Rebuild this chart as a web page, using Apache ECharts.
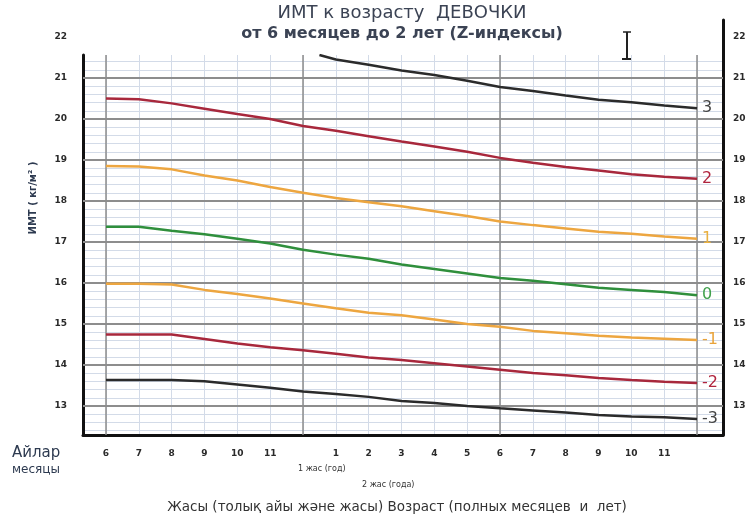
<!DOCTYPE html>
<html>
<head>
<meta charset="utf-8">
<script src="https://cdn.jsdelivr.net/npm/echarts@6/dist/echarts.min.js"></script>
<style>
  html, body { margin: 0; padding: 0; background: #fff; }
  #chart { width: 751px; height: 523px; }
</style>
</head>
<body>
<div id="chart"></div>
<script>
// age in completed months, 6 months .. 2 years
var months = [6, 7, 8, 9, 10, 11, 12, 13, 14, 15, 16, 17, 18, 19, 20, 21, 22, 23, 24];
var monthLabels = ['6', '7', '8', '9', '10', '11', '', '1', '2', '3', '4', '5', '6', '7', '8', '9', '10', '11', ''];
// the +3 curve only enters the chart at about 12.5 months
var monthsPlus3 = [12.5, 13, 14, 15, 16, 17, 18, 19, 20, 21, 22, 23, 24];

// BMI (kg/m2)
var zPlus3  = [21.56, 21.45, 21.32, 21.18, 21.07, 20.93, 20.78, 20.68, 20.57, 20.47, 20.41, 20.33, 20.26];
var zPlus2  = [20.50, 20.48, 20.38, 20.25, 20.12, 20.00, 19.83, 19.71, 19.58, 19.45, 19.33, 19.20, 19.05, 18.93, 18.83, 18.74, 18.65, 18.59, 18.54];
var zPlus1  = [18.85, 18.84, 18.77, 18.62, 18.50, 18.34, 18.20, 18.07, 17.97, 17.87, 17.75, 17.63, 17.50, 17.41, 17.33, 17.25, 17.20, 17.13, 17.08];
var zZero   = [17.37, 17.37, 17.27, 17.19, 17.08, 16.96, 16.81, 16.69, 16.59, 16.45, 16.34, 16.23, 16.12, 16.05, 15.97, 15.88, 15.83, 15.78, 15.70];
var zMinus1 = [15.98, 15.98, 15.96, 15.83, 15.73, 15.62, 15.50, 15.38, 15.27, 15.21, 15.11, 15.00, 14.93, 14.83, 14.77, 14.71, 14.67, 14.64, 14.61];
var zMinus2 = [14.74, 14.74, 14.74, 14.63, 14.52, 14.43, 14.36, 14.27, 14.18, 14.12, 14.04, 13.96, 13.88, 13.80, 13.75, 13.68, 13.63, 13.59, 13.56];
var zMinus3 = [13.63, 13.63, 13.63, 13.60, 13.52, 13.44, 13.35, 13.29, 13.22, 13.12, 13.07, 13.00, 12.94, 12.89, 12.84, 12.78, 12.74, 12.72, 12.68];

var zNames  = ['3', '2', '1', '0', '-1', '-2', '-3'];
var zValues = [zPlus3, zPlus2, zPlus1, zZero, zMinus1, zMinus2, zMinus3];
var zMonths = [monthsPlus3, months, months, months, months, months, months];
var zColors = ['#2b2b2b', '#a8283c', '#eda640', '#2f8f3c', '#eda640', '#a8283c', '#2b2b2b'];
var zLabelColors = ['#444', '#b0243e', '#e9b040', '#3fa04c', '#e9a43c', '#b0243e', '#444'];

var FONT = 'DejaVu Sans';
var MINOR = '#d3dbe8';
var MAJOR = '#8d8d8d';

var chart = echarts.init(document.getElementById('chart'));

var series = zValues.map(function (vals, k) {
  var xs = zMonths[k];
  var pts = [];
  for (var i = 0; i < xs.length; i++) pts.push([xs[i], vals[i]]);
  return {
    name: zNames[k],
    type: 'line',
    xAxisIndex: 0,
    yAxisIndex: 0,
    data: pts,
    showSymbol: false,
    symbol: 'none',
    clip: true,
    z: 5,
    lineStyle: { color: zColors[k], width: 2.5 },
    endLabel: {
      show: true,
      formatter: zNames[k],
      color: zLabelColors[k],
      fontSize: 16,
      fontFamily: FONT,
      distance: 5
    }
  };
});

var hidden = { show: false };

var option = {
  animation: false,
  backgroundColor: '#fff',
  grid: [
    { left: 83, right: 28, top: 55, bottom: 88 },      // data
    { left: 106, right: 54, top: 55, bottom: 88 },     // month lines 6..24
    { left: 83, right: 28, top: 61.6, bottom: 92.4 },  // minor horizontal 12.4..21.4
    { left: 83, right: 28, top: 37, bottom: 117 },     // integer lines + labels 13..22
    { left: 83, right: 28, top: 20, bottom: 88 }       // right frame
  ],
  xAxis: [
    { gridIndex: 0, type: 'value', min: 5.3, max: 24.79,
      axisLine: { onZero: false, lineStyle: { color: '#111', width: 3 } },
      axisTick: hidden, axisLabel: hidden, splitLine: hidden },
    { gridIndex: 1, type: 'value', min: 6, max: 24, interval: 1,
      axisLine: hidden, axisTick: hidden,
      splitLine: { show: true, lineStyle: { color: MINOR, width: 1 } },
      axisLabel: { margin: 14, fontSize: 9, fontWeight: 'bold', color: '#2a2a2a', fontFamily: FONT,
        formatter: function (v) { return monthLabels[Math.round(v) - 6]; } } },
    { gridIndex: 1, type: 'value', min: 6, max: 24, interval: 6, position: 'top', z: 1,
      axisLine: hidden, axisTick: hidden, axisLabel: hidden,
      splitLine: { show: true, lineStyle: { color: MAJOR, width: 1.5 } } },
    { gridIndex: 2, type: 'value', min: 0, max: 1, show: false },
    { gridIndex: 3, type: 'value', min: 0, max: 1, show: false },
    { gridIndex: 4, type: 'value', min: 0, max: 1, show: false }
  ],
  yAxis: [
    { gridIndex: 0, type: 'value', min: 12.29, max: 21.56,
      axisLine: { show: true, onZero: false, lineStyle: { color: '#111', width: 3 } },
      axisTick: hidden, axisLabel: hidden, splitLine: hidden },
    { gridIndex: 1, type: 'value', min: 0, max: 1, show: false },
    { gridIndex: 2, type: 'value', min: 12.4, max: 21.4, interval: 0.2,
      axisLine: hidden, axisTick: hidden, axisLabel: hidden,
      splitLine: { show: true, lineStyle: { color: MINOR, width: 1 } } },
    { gridIndex: 3, type: 'value', min: 13, max: 22, interval: 1, z: 1,
      axisLine: hidden, axisTick: hidden,
      axisLabel: { margin: 16, fontSize: 9, fontWeight: 'bold', color: '#2a2a2a', fontFamily: FONT },
      splitLine: { show: true, showMaxLine: false, lineStyle: { color: MAJOR, width: 2 } } },
    { gridIndex: 3, type: 'value', min: 13, max: 22, interval: 1, position: 'right',
      axisLine: hidden, axisTick: hidden, splitLine: hidden,
      axisLabel: { margin: 10, fontSize: 9, fontWeight: 'bold', color: '#2a2a2a', fontFamily: FONT } },
    { gridIndex: 4, type: 'value', min: 0, max: 1, position: 'right',
      axisLine: { show: true, onZero: false, lineStyle: { color: '#111', width: 3 } },
      axisTick: hidden, axisLabel: hidden, splitLine: hidden }
  ],
  series: series,
  graphic: [
    { type: 'text', x: 402, y: 13, style: { text: 'ИМТ к возрасту  ДЕВОЧКИ', font: '18px ' + FONT, fill: '#3b4354', textAlign: 'center', textVerticalAlign: 'middle' } },
    { type: 'text', x: 402, y: 34, style: { text: 'от 6 месяцев до 2 лет (Z-индексы)', font: 'bold 16px ' + FONT, fill: '#3b4354', textAlign: 'center', textVerticalAlign: 'middle' } },
    { type: 'text', x: 33, y: 198, rotation: Math.PI / 2, style: { text: 'ИМТ ( кг/м² )', font: 'bold 10px ' + FONT, fill: '#2d3a50', textAlign: 'center', textVerticalAlign: 'middle' } },
    { type: 'text', x: 12, y: 453, style: { text: 'Айлар', font: '15px ' + FONT, fill: '#2d3a50', textAlign: 'left', textVerticalAlign: 'middle' } },
    { type: 'text', x: 12, y: 470, style: { text: 'месяцы', font: '12px ' + FONT, fill: '#2d3a50', textAlign: 'left', textVerticalAlign: 'middle' } },
    { type: 'text', x: 298, y: 469, style: { text: '1 жас (год)', font: '8px ' + FONT, fill: '#333', textAlign: 'left', textVerticalAlign: 'middle' } },
    { type: 'text', x: 362, y: 485, style: { text: '2 жас (года)', font: '8px ' + FONT, fill: '#333', textAlign: 'left', textVerticalAlign: 'middle' } },
    { type: 'text', x: 397, y: 507, style: { text: 'Жасы (толық айы және жасы) Возраст (полных месяцев  и  лет)', font: '13.5px ' + FONT, fill: '#333', textAlign: 'center', textVerticalAlign: 'middle' } },
    // text cursor left in the screenshot
    { type: 'line', shape: { x1: 627, y1: 32, x2: 627, y2: 59 }, style: { stroke: '#222', lineWidth: 2 } },
    { type: 'line', shape: { x1: 622, y1: 59, x2: 632, y2: 59 }, style: { stroke: '#222', lineWidth: 2 } },
    { type: 'line', shape: { x1: 623, y1: 32, x2: 631, y2: 32 }, style: { stroke: '#222', lineWidth: 1.5 } }
  ]
};

chart.setOption(option);
</script>
</body>
</html>
